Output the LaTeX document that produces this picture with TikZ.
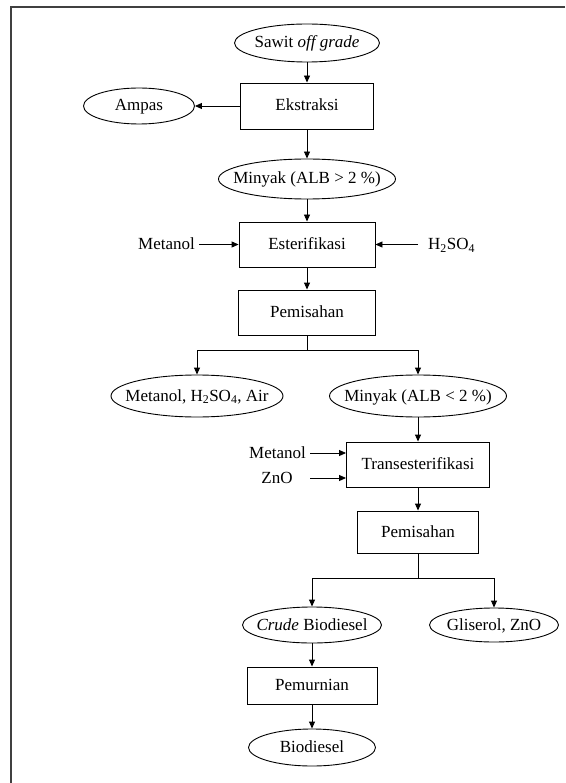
\documentclass[tikz,border=0pt]{standalone}
\usepackage{fontspec}
\setmainfont{Liberation Serif}
\usetikzlibrary{shapes.geometric,arrows.meta}
\newcommand\zw[1]{\makebox[0pt]{#1}}
\begin{document}
\begin{tikzpicture}[x=1pt,y=-1pt,
  every node/.style={font=\fontsize{17}{20}\selectfont, inner sep=0pt, text height=12pt, text depth=2pt},
  box/.style={draw, line width=0.9pt},
  oval/.style={draw, ellipse, line width=0.9pt},
  arr/.style={-{Triangle[length=7pt,width=6pt]}, line width=0.9pt},
  ln/.style={line width=0.9pt}]
\useasboundingbox (0,0) rectangle (565,783);
\draw[line width=1.3pt, black!75] (565,7) -- (11,7) -- (11,783);

\node[oval, minimum width=145pt, minimum height=38pt] (sawit) at (307,43) {\zw{Sawit \textit{off grade}}};
\node[box, minimum width=133pt, minimum height=46pt] (ekstr) at (307,106) {Ekstraksi};
\node[oval, minimum width=111pt, minimum height=36pt] (ampas) at (139,106) {\zw{Ampas}};
\node[oval, minimum width=177pt, minimum height=40pt] (minyak1) at (307,179) {\zw{Minyak (ALB > 2 \%)}};
\node[box, minimum width=136pt, minimum height=45pt] (ester) at (307,244.5) {Esterifikasi};
\node[anchor=east] (met1) at (195,244.5) {Metanol};
\node[anchor=west] (h2so4) at (428,244.5) {H\textsubscript{2}SO\textsubscript{4}};
\node[box, minimum width=137pt, minimum height=45pt] (pem1) at (307,312.5) {Pemisahan};
\node[oval, minimum width=172pt, minimum height=42pt] (side1) at (197,396) {\zw{Metanol, H\textsubscript{2}SO\textsubscript{4}, Air}};
\node[oval, minimum width=177pt, minimum height=42pt] (minyak2) at (418,396) {\zw{Minyak (ALB < 2 \%)}};
\node[box, minimum width=143pt, minimum height=45pt] (trans) at (418,464.5) {Transesterifikasi};
\node[anchor=east] (met2) at (306,453) {Metanol};
\node (zno) at (277,478) {ZnO};
\coordinate (znos) at (310,478);
\node[box, minimum width=121pt, minimum height=42pt] (pem2) at (418,532) {Pemisahan};
\node[oval, minimum width=139pt, minimum height=36pt] (crude) at (312,625) {\zw{\textit{Crude} Biodiesel}};
\node[oval, minimum width=129pt, minimum height=34pt] (glis) at (494,625) {\zw{Gliserol, ZnO}};
\node[box, minimum width=130pt, minimum height=37pt] (murni) at (312,685.5) {Pemurnian};
\node[oval, minimum width=127pt, minimum height=37pt] (bio) at (312,747.5) {\zw{Biodiesel}};

\coordinate (s1) at (307,350);
\coordinate (s2) at (418,578);

\draw[arr] (sawit) -- (ekstr);
\draw[arr] (ekstr) -- (ampas);
\draw[arr] (ekstr) -- (minyak1);
\draw[arr] (minyak1) -- (ester);
\draw[arr, shorten <=4pt] (met1) -- (ester);
\draw[arr, shorten <=10pt] (h2so4) -- (ester);
\draw[arr] (ester) -- (pem1);
\draw[ln] (pem1) -- (s1);
\draw[arr] (s1) -| (side1);
\draw[arr] (s1) -| (minyak2);
\draw[arr] (minyak2) -- (trans);
\draw[arr, shorten <=4pt] (met2.east) -- (met2.east -| trans.west);
\draw[arr] (znos) -- (znos -| trans.west);
\draw[arr] (trans) -- (pem2);
\draw[ln] (pem2) -- (s2);
\draw[arr] (s2) -| (crude);
\draw[arr] (s2) -| (glis);
\draw[arr] (crude) -- (murni);
\draw[arr] (murni) -- (bio);
\end{tikzpicture}
\end{document}
